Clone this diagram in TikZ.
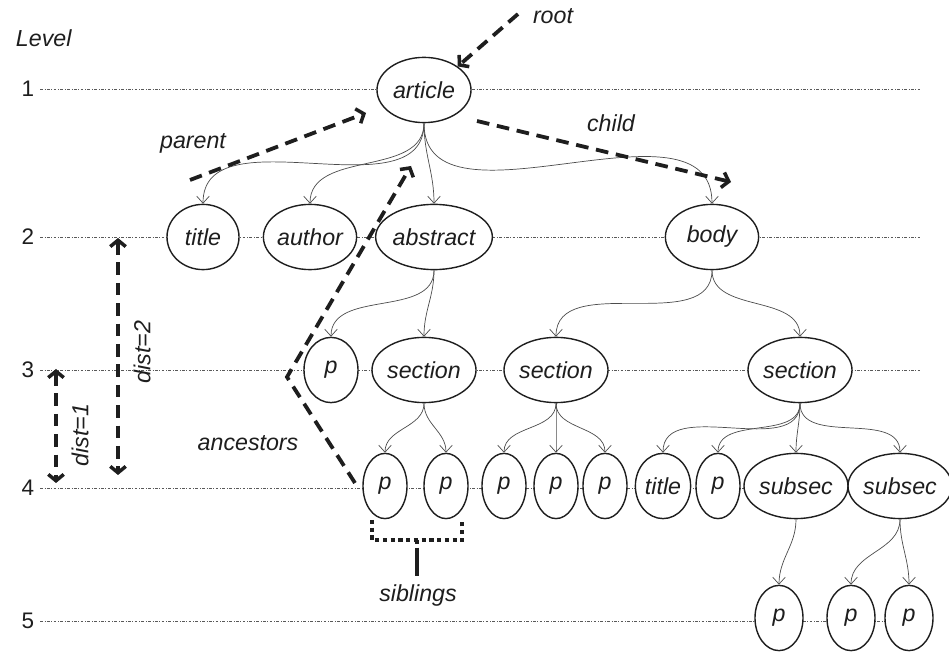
\documentclass[tikz,border=0pt]{standalone}
\usepackage{fontspec}
\setmainfont{Liberation Sans}
\usetikzlibrary{shapes.geometric,arrows.meta}
\definecolor{ink}{HTML}{1E1E1E}

\begin{document}
\begin{tikzpicture}[x=0.025cm,y=-0.025cm]
    \tikzstyle{every node}=[text=ink, font=\fontsize{16.5}{19}\selectfont\itshape]
    \tikzstyle{tnode}=[ellipse, draw=ink, fill=white, line width=1pt, inner sep=0pt, minimum height=1.63cm]
    \tikzstyle{wide}=[tnode, minimum width=2.6cm]
    \tikzstyle{mid}=[tnode, minimum width=2.33cm]
    \tikzstyle{leaf}=[tnode, minimum width=1.1cm]
    \tikzstyle{edge}=[draw=black!70, line width=0.5pt, -{Straight Barb[length=5pt,width=9pt]}]
    \tikzstyle{levelline}=[black!65, line width=0.55pt, dash pattern=on 2pt off 1.2pt on 0.4pt off 1.2pt]
    \tikzstyle{annot}=[ink, line width=2.7pt, dash pattern=on 9pt off 5.5pt, -{Straight Barb[length=4.5pt,width=11pt,line width=2.5pt]}]
    \tikzstyle{lvl}=[font=\fontsize{16}{18}\selectfont, inner sep=4pt]
    \useasboundingbox (0,0) rectangle (949,655);

    % levels
    \node[anchor=west] (level) at (11,38) {Level};
    \foreach \l/\y in {1/89,2/237,3/370,4/488,5/621} {
      \node[lvl] (l\l) at (28,\y) {\l};
      \coordinate (e\l) at (922,\y);
      \draw[levelline] (l\l.east) -- (e\l);
    }

    % tree
    \node[tnode, minimum width=2.35cm] (article) at (424,90) {article};
    \node[tnode, minimum width=1.8cm] (title) at (203,237) {title};
    \node[mid] (author) at (310,237) {author};
    \node[tnode, minimum width=2.8cm] (abstract) at (434,237) {abstract};
    \node[mid] (body) at (712,237) {body};
    \node[tnode, minimum width=1.35cm] (p3) at (331,370) {p};
    \node[wide] (sec1) at (424,370) {section};
    \node[wide] (sec2) at (556,370) {section};
    \node[wide] (sec3) at (800,370) {section};
    \node[leaf] (p4a) at (385,486) {p};
    \node[leaf] (p4b) at (446,486) {p};
    \node[leaf] (p4c) at (504,486) {p};
    \node[leaf] (p4d) at (556,486) {p};
    \node[leaf] (p4e) at (605,486) {p};
    \node[tnode, minimum width=1.38cm] (t4) at (663,486) {title};
    \node[leaf] (p4f) at (718,486) {p};
    \node[wide] (sub1) at (796,486) {subsec};
    \node[tnode, minimum width=2.45cm] (sub2) at (900,486) {subsec};
    \node[tnode, minimum width=1.2cm] (p5a) at (779,618) {p};
    \node[tnode, minimum width=1.2cm] (p5b) at (851,618) {p};
    \node[tnode, minimum width=1.2cm] (p5c) at (909,618) {p};

    \foreach \a/\b in {article/title, article/author, article/abstract, article/body,
                       abstract/p3, abstract/sec1, body/sec2, body/sec3,
                       sec1/p4a, sec1/p4b, sec2/p4c, sec2/p4d, sec2/p4e,
                       sec3/t4, sec3/p4f, sec3/sub1, sec3/sub2,
                       sub1/p5a, sub2/p5b, sub2/p5c}
      \draw[edge] (\a.south) to[out=-90,in=90] (\b.north);

    % annotations
    \node (rootlbl) at (553,16) {root};
    \coordinate (rootS) at (518,14);
    \draw[annot] (rootS) -- (article.north east);

    \node (parlbl) at (193,143) {parent};
    \coordinate (parS) at (190,180);
    \coordinate (parE) at (366,113);
    \draw[annot] (parS) -- (parE);

    \node (chlbl) at (611,123) {child};
    \coordinate (chS) at (477,121);
    \coordinate (chE) at (731,182);
    \draw[annot] (chS) -- (chE);

    \node (anclbl) at (248,443) {ancestors};
    \coordinate (ancS) at (355,483);
    \coordinate (ancM) at (287,377);
    \coordinate (ancE) at (411,166);
    \draw[annot] (ancS) -- (ancM) -- (ancE);

    \coordinate (d2a) at (118,238);
    \coordinate (d2b) at (118,475);
    \draw[annot, {Straight Barb[length=4.5pt,width=11pt,line width=2.5pt]}-{Straight Barb[length=4.5pt,width=11pt,line width=2.5pt]}] (d2a) -- (d2b);
    \node[rotate=90] (d2lbl) at (142,352) {dist=2};

    \coordinate (d1a) at (56,369);
    \coordinate (d1b) at (56,483);
    \draw[annot, {Straight Barb[length=4.5pt,width=11pt,line width=2.5pt]}-{Straight Barb[length=4.5pt,width=11pt,line width=2.5pt]}] (d1a) -- (d1b);
    \node[rotate=90] (d1lbl) at (80,435) {dist=1};

    % siblings bracket
    \coordinate (brL) at (372,520);
    \coordinate (brR) at (462,520);
    \coordinate (brM) at (417,540);
    \coordinate (brT) at (417,576);
    \draw[ink, line width=2.4pt, dash pattern=on 3pt off 2.5pt] (brL) |- (brM) -| (brR);
    \draw[ink, line width=2.4pt, dash pattern=on 3pt off 2.5pt] (brM) -- ([yshift=-0.3cm]brM);
    \draw[ink, line width=2.6pt] ([yshift=-0.3cm]brM) -- (brT);
    \node (siblbl) at (418,596) {siblings};
\end{tikzpicture}
\end{document}
